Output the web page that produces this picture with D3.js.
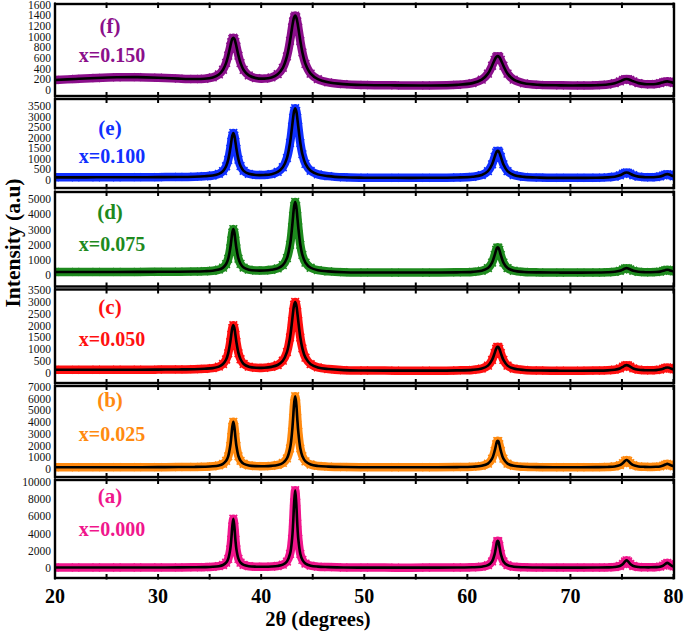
<!DOCTYPE html>
<html><head><meta charset="utf-8">
<script src="https://cdn.jsdelivr.net/npm/d3@7"></script>
<style>body{margin:0;background:#fff}svg{display:block}</style>
</head><body>
<svg id="chart" width="685" height="631"></svg>
<script>
// ---------- DATA ----------
const twoTheta = [20,22,24,26,28,30,32,33.5,34.5,35.3,35.9,36.3,36.6,36.8,37.0,37.1,37.2,37.3,37.4,37.5,37.6,37.8,38.0,38.3,38.8,39.5,40.3,41.0,41.6,42.1,42.5,42.8,43.0,43.1,43.2,43.3,43.4,43.5,43.6,43.8,44.0,44.3,44.8,45.5,46.5,48,50,53,56,59,60.5,61.4,62.0,62.4,62.65,62.8,62.9,63.0,63.1,63.25,63.5,63.9,64.5,65.5,67,69,71,72.5,73.6,74.3,74.8,75.1,75.3,75.45,75.6,75.8,76.1,76.6,77.2,77.8,78.3,78.7,79.0,79.2,79.4,79.6,79.8,80];

const intensityF = [188,207,225,238,241,231,214,206,211,236,292,380,509,645,814,897,957,980,958,899,817,644,506,376,273,223,214,236,296,416,630,922,1172,1286,1366,1396,1366,1285,1171,919,705,489,307,203,144,110,94,87,85,97,129,193,307,455,566,616,633,633,616,566,455,307,193,125,96,87,86,90,102,128,161,189,202,205,202,189,163,129,110,107,114,129,147,157,162,156,145,131];
const intensityE = [126,126,127,128,132,135,143,157,178,213,292,424,650,951,1472,1805,2099,2223,2100,1808,1476,959,661,434,293,238,240,277,384,604,1038,1756,2527,2943,3269,3394,3268,2942,2525,1753,1220,763,434,266,182,127,109,103,103,118,152,235,416,740,1092,1300,1379,1379,1300,1092,740,416,235,148,114,102,102,106,124,158,223,295,341,354,341,296,225,160,133,127,139,169,216,257,277,256,214,178];
const intensityD = [201,201,202,203,204,210,217,229,249,282,357,487,724,1069,1758,2278,2798,3036,2800,2280,1762,1076,734,492,351,298,300,343,435,652,1114,1995,3155,3896,4550,4824,4550,3895,3153,1993,1323,812,479,318,240,186,167,161,162,175,205,281,458,824,1313,1662,1810,1810,1662,1313,824,458,281,201,171,160,160,164,178,210,278,367,432,453,433,368,280,212,186,183,194,222,273,321,346,320,272,233];
const intensityC = [136,136,137,138,138,143,150,160,178,205,270,379,570,830,1298,1610,1896,2018,1897,1613,1302,837,580,382,265,219,222,259,338,519,882,1500,2190,2572,2878,2997,2878,2571,2188,1497,1037,644,371,235,166,120,106,100,99,109,131,186,311,551,840,1026,1100,1100,1026,840,551,311,186,128,105,98,98,101,112,139,192,263,315,332,316,264,193,139,119,114,123,144,181,216,235,216,179,151];
const intensityB = [151,151,152,153,153,157,165,177,195,232,308,442,694,1084,1960,2720,3587,4025,3589,2722,1964,1089,701,448,302,245,238,268,344,514,903,1759,3184,4350,5607,6213,5607,4349,3182,1756,1092,651,383,259,201,165,153,149,150,163,194,269,455,877,1544,2112,2381,2381,2112,1544,877,455,269,190,160,151,150,156,174,217,326,509,693,763,694,510,328,219,183,176,187,221,294,380,438,379,292,235];
const intensityA = [91,91,92,93,93,99,105,117,135,171,247,382,649,1082,2183,3303,4830,5723,4831,3305,2186,1087,655,391,242,184,175,200,267,419,782,1657,3402,5179,7600,9018,7600,5178,3400,1654,966,544,300,190,139,91,81,78,79,90,117,184,356,792,1645,2590,3135,3135,2590,1645,792,356,184,113,87,80,81,86,103,146,264,498,792,924,792,500,267,151,117,113,134,190,317,493,627,492,315,216];

const panelLabels = ["(f)", "(e)", "(d)", "(c)", "(b)", "(a)"];
const compositions = ["x=0.150", "x=0.100", "x=0.075", "x=0.050", "x=0.025", "x=0.000"];

const ticksF = [0,200,400,600,800,1000,1200,1400,1600];
const ticksE = [0,500,1000,1500,2000,2500,3000,3500];
const ticksD = [0,1000,2000,3000,4000,5000];
const ticksC = [0,500,1000,1500,2000,2500,3000,3500];
const ticksB = [0,1000,2000,3000,4000,5000,6000,7000];
const ticksA = [0,2000,4000,6000,8000,10000];

const xTickLabels = [20,30,40,50,60,70,80];
const xMinorTicks = [20,25,30,35,40,45,50,55,60,65,70,75,80];

// ---------- LAYOUT / STYLE ----------
const series = [intensityF, intensityE, intensityD, intensityC, intensityB, intensityA];
const tickSets = [ticksF, ticksE, ticksD, ticksC, ticksB, ticksA];
const colors = ["#8b0f8b", "#1030ff", "#1e8a1e", "#ff1010", "#ff8a10", "#f0168c"];
const layout = [
  {top:4,     bottom:96,    zeroY:90,    topTickY:4.7,   lab1:33,    lab2:62},
  {top:99,    bottom:188,   zeroY:180,   topTickY:106,   lab1:134.5, lab2:163},
  {top:192,   bottom:286.5, zeroY:275,   topTickY:199.3, lab1:219,   lab2:251},
  {top:289.5, bottom:383,   zeroY:373,   topTickY:290,   lab1:314,   lab2:346},
  {top:386,   bottom:477,   zeroY:469,   topTickY:387,   lab1:407,   lab2:441},
  {top:480,   bottom:578,   zeroY:568.3, topTickY:481.7, lab1:503,   lab2:536}
];
const left = 55, right = 674;

const svg = d3.select("#chart");
const x = d3.scaleLinear().domain([20, 80]).range([55, 673.5]);
const serif = "'Liberation Serif','Times New Roman',serif";

layout.forEach((L, i) => {
  const ticks = tickSets[i];
  const y = d3.scaleLinear().domain([0, ticks[ticks.length - 1]]).range([L.zeroY, L.topTickY]);
  const g = svg.append("g");
  const clipId = "clip" + i;
  svg.append("clipPath").attr("id", clipId).append("rect")
    .attr("x", left).attr("y", L.top).attr("width", right - left).attr("height", L.bottom - L.top);

  const pts = twoTheta.map((t, k) => [t, series[i][k]]);
  const line = d3.line().x(d => x(d[0])).y(d => y(d[1])).curve(d3.curveCatmullRom.alpha(0.5));
  const plot = g.append("g").attr("clip-path", `url(#${clipId})`);
  // observed band
  plot.append("path").attr("d", line(pts)).attr("fill", "none")
    .attr("stroke", colors[i]).attr("stroke-width", 8.5).attr("stroke-linejoin", "round").attr("stroke-linecap", "round");
  // observed markers
  plot.selectAll("path.mk").data(pts).join("path").attr("class", "mk")
    .attr("transform", d => `translate(${x(d[0])},${y(d[1])})`)
    .attr("d", d3.symbol().type(d3.symbolTimes).size(40))
    .attr("fill", "none").attr("stroke", colors[i]).attr("stroke-width", 1.6);
  // fitted line
  plot.append("path").attr("d", line(pts)).attr("fill", "none")
    .attr("stroke", "#000").attr("stroke-width", 2.6).attr("stroke-linejoin", "round");

  // frame
  g.append("rect").attr("x", left).attr("y", L.top).attr("width", right - left).attr("height", L.bottom - L.top)
    .attr("fill", "none").attr("stroke", "#000").attr("stroke-width", 2.4);

  // x ticks top & bottom
  xMinorTicks.forEach(t => {
    g.append("line").attr("x1", x(t)).attr("x2", x(t)).attr("y1", L.top - 1.5).attr("y2", L.top + 4)
      .attr("stroke", "#000").attr("stroke-width", 2);
    g.append("line").attr("x1", x(t)).attr("x2", x(t)).attr("y1", L.bottom + 1.5).attr("y2", L.bottom - 4)
      .attr("stroke", "#000").attr("stroke-width", 2);
  });

  // y tick labels
  g.selectAll("text.yt").data(ticks).join("text").attr("class", "yt")
    .attr("x", 51).attr("y", d => y(d)).attr("dy", "0.35em")
    .attr("text-anchor", "end").attr("font-family", serif).attr("font-size", 11.5)
    .attr("fill", "#111").text(d => d);

  // panel labels
  g.append("text").attr("x", 110).attr("y", L.lab1).attr("text-anchor", "middle")
    .attr("font-family", serif).attr("font-weight", "bold").attr("font-size", 21)
    .attr("fill", colors[i]).text(panelLabels[i]);
  g.append("text").attr("x", 112).attr("y", L.lab2).attr("text-anchor", "middle")
    .attr("font-family", serif).attr("font-weight", "bold").attr("font-size", 20)
    .attr("fill", colors[i]).text(compositions[i]);
});

// x tick labels
svg.selectAll("text.xt").data(xTickLabels).join("text").attr("class", "xt")
  .attr("x", d => x(d)).attr("y", 603).attr("text-anchor", "middle")
  .attr("font-family", serif).attr("font-weight", "bold").attr("font-size", 20).text(d => d);

// axis titles
svg.append("text").attr("x", 318).attr("y", 626).attr("text-anchor", "middle")
  .attr("font-family", serif).attr("font-weight", "bold").attr("font-size", 20.5).text("2θ (degrees)");
svg.append("text").attr("transform", "translate(20,243) rotate(-90)").attr("text-anchor", "middle")
  .attr("font-family", serif).attr("font-weight", "bold").attr("font-size", 21.5).text("Intensity (a.u)");
</script>
</body></html>
